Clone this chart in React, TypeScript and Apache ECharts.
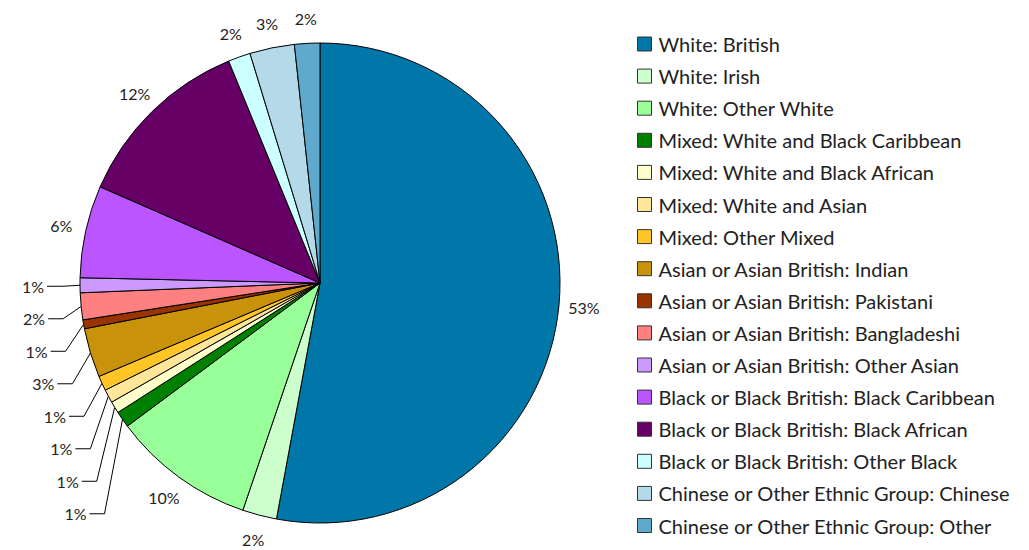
import React, { useEffect, useRef } from "react";
import * as echarts from "echarts";

const categories = [
  "White: British",
  "White: Irish",
  "White: Other White",
  "Mixed: White and Black Caribbean",
  "Mixed: White and Black African",
  "Mixed: White and Asian",
  "Mixed: Other Mixed",
  "Asian or Asian British: Indian",
  "Asian or Asian British: Pakistani",
  "Asian or Asian British: Bangladeshi",
  "Asian or Asian British: Other Asian",
  "Black or Black British: Black Caribbean",
  "Black or Black British: Black African",
  "Black or Black British: Other Black",
  "Chinese or Other Ethnic Group: Chinese",
  "Chinese or Other Ethnic Group: Other",
];

const values = [52.8, 2.3, 9.6, 1.1, 0.8, 0.9, 1.0, 3.3, 0.6, 1.8, 1.0, 6.2, 12.2, 1.5, 3.0, 1.7];

const colors = [
  "#0077a8", "#ccffcc", "#99ff99", "#008000", "#ffffcc", "#ffe699", "#ffc425", "#c8930a",
  "#993300", "#ff8080", "#cc99ff", "#bb55ff", "#660066", "#ccffff", "#b4d9e8", "#5fa9cc",
];

// slices whose labels use a leader line
const leaderLined = new Set([3, 4, 5, 6, 7, 8, 9, 10]);

const CX = 320;
const CY = 283;
const R = 240;

export default function App() {
  const ref = useRef<HTMLDivElement>(null);
  useEffect(() => {
    if (!ref.current) return;
    const chart = echarts.init(ref.current, null, { renderer: "svg" });
    const total = values.reduce((a, b) => a + b, 0);
    const font = "Lato, 'DejaVu Sans', sans-serif";

    // mid-angle direction of each slice (clockwise from 12 o'clock)
    const dirs: [number, number][] = [];
    let cum = 0;
    values.forEach((v) => {
      const th = ((cum + v / 2) / total) * Math.PI * 2;
      dirs.push([Math.sin(th), -Math.cos(th)]);
      cum += v;
    });

    // stacked leader-label placement, top to bottom
    const leaderOrder = Array.from(leaderLined).sort((a, b) => b - a);
    const leaderPos: Record<number, { edge: number[]; elbow: number[]; end: number[] }> = {};
    let prevY = -Infinity;
    leaderOrder.forEach((i) => {
      const ex = CX + R * dirs[i][0];
      const ey = CY + R * dirs[i][1];
      const ly = Math.max(ey + 1, prevY + 32.5);
      prevY = ly;
      const elbow = [ex - 18, ly];
      const end = [ex - 33, ly];
      leaderPos[i] = { edge: [ex, ey], elbow, end };
    });

    chart.setOption({
      animation: false,
      color: colors,
      legend: {
        orient: "vertical",
        left: 637,
        top: 34,
        padding: 0,
        itemWidth: 14,
        itemHeight: 14,
        itemGap: 12.1,
        icon: "rect",
        itemStyle: { borderColor: "#333", borderWidth: 1 },
        textStyle: { fontFamily: font, fontSize: 20, color: "#222", padding: [0, 0, 0, 2] },
        data: categories,
      },
      series: [
        {
          type: "pie",
          center: [CX, CY],
          radius: [0, R],
          startAngle: 90,
          clockwise: true,
          avoidLabelOverlap: false,
          itemStyle: { borderColor: "#000", borderWidth: 1 },
          label: {
            show: true,
            position: "outside",
            fontFamily: font,
            fontSize: 16,
            color: "#222",
            formatter: (p: any) => Math.round((p.value / total) * 100) + "%",
          },
          labelLine: { show: true, length: 15, length2: 15, lineStyle: { color: "#000", width: 1 } },
          labelLayout: (p: any) => {
            const i = p.dataIndex;
            if (leaderLined.has(i)) {
              const lp = leaderPos[i];
              return {
                x: lp.end[0] - 3,
                y: lp.end[1],
                align: "right",
                verticalAlign: "middle",
                labelLinePoints: [lp.edge, lp.elbow, lp.end],
              };
            }
            return {
              x: CX + 265 * dirs[i][0],
              y: CY + 265 * dirs[i][1],
              align: "center",
              verticalAlign: "middle",
            };
          },
          data: categories.map((name, i) => ({
            name,
            value: values[i],
            labelLine: { show: leaderLined.has(i) },
          })),
        },
      ],
    });
    return () => chart.dispose();
  }, []);
  return (
    <div
      ref={ref}
      style={{ position: "fixed", left: 0, top: 0, width: 1029, height: 550, background: "#fff" }}
    />
  );
}
